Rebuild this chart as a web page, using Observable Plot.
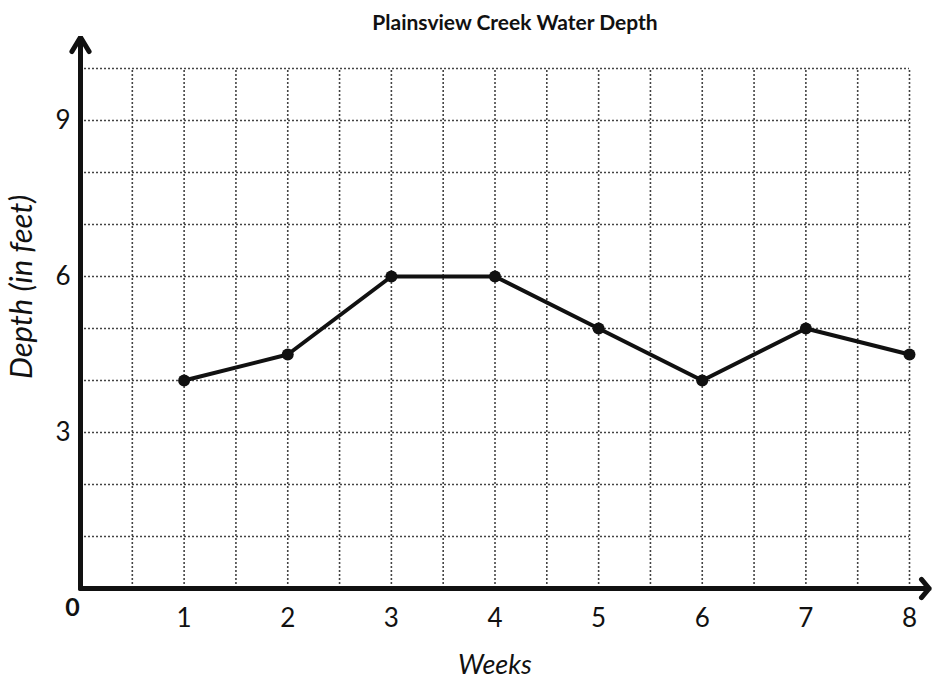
<!DOCTYPE html>
<html>
<head>
<meta charset="utf-8">
<script src="https://cdn.jsdelivr.net/npm/d3@7"></script>
<script src="https://cdn.jsdelivr.net/npm/@observablehq/plot@0.6"></script>
<style>
  body { margin: 0; background: #fff; font-family: Lato, "Open Sans", sans-serif; }
  #title { height: 36px; line-height: 44px; text-align: center; font-weight: bold; font-size: 21px; padding-left: 97px; color: #111; }
  svg { display: block; }
</style>
</head>
<body>
<div id="title">Plainsview Creek Water Depth</div>
<div id="chart"></div>
<script>
const weeks = [1, 2, 3, 4, 5, 6, 7, 8];
const depth = [4, 4.5, 6, 6, 5, 4, 5, 4.5];
const yTicks = [3, 6, 9];
const xTicks = [1, 2, 3, 4, 5, 6, 7, 8];
const xGrid = d3.range(1, 17).map(i => i / 2);
const yGrid = d3.range(1, 11);

const data = weeks.map((w, i) => ({week: w, depth: depth[i]}));

const chart = Plot.plot({
  width: 933,
  height: 644,
  marginLeft: 80,
  marginRight: 24,
  marginTop: 32,
  marginBottom: 92,
  x: {domain: [0, 8], axis: null},
  y: {domain: [0, 10], axis: null},
  style: {fontFamily: "Lato, 'Open Sans', sans-serif", background: "#fff"},
  marks: [
    Plot.ruleX(xGrid, {x: d => d, y1: 0, y2: 10, stroke: "#444", strokeWidth: 1.6, strokeDasharray: "2,2"}),
    Plot.ruleY(yGrid, {y: d => d, x1: 0, x2: 8, stroke: "#444", strokeWidth: 1.6, strokeDasharray: "2,2"}),
    Plot.arrow([{x1: 0, y1: 0, x2: 0, y2: 10.6}], {x1: "x1", y1: "y1", x2: "x2", y2: "y2", stroke: "#111", strokeWidth: 5, headLength: 5, headAngle: 62, clip: false}),
    Plot.arrow([{x1: 0, y1: 0, x2: 8.19, y2: 0}], {x1: "x1", y1: "y1", x2: "x2", y2: "y2", stroke: "#111", strokeWidth: 5, headLength: 3.6, headAngle: 100, clip: false}),
    Plot.line(data, {x: "week", y: "depth", stroke: "#111", strokeWidth: 4}),
    Plot.dot(data, {x: "week", y: "depth", r: 6, fill: "#111"}),
    Plot.text(xTicks, {x: d => d, y: 0, dy: 30, text: d => String(d), fontSize: 26, fill: "#111"}),
    Plot.text(yTicks, {x: 0, y: d => d, dx: -10, text: d => String(d), fontSize: 26, textAnchor: "end", fill: "#111"}),
    Plot.text(["0"], {x: 0, y: 0, dx: -8, dy: 19, text: d => d, fontSize: 25, fontWeight: "bold", fill: "#111"}),
    Plot.text(["Weeks"], {x: 4, y: 0, dy: 77, text: d => d, fontSize: 27, fontStyle: "italic", fill: "#111"}),
    Plot.text(["Depth (in feet)"], {x: 0, y: 5.8, dx: -58, rotate: -90, text: d => d, fontSize: 31, fontStyle: "italic", fill: "#111"})
  ]
});
document.getElementById("chart").appendChild(chart);
</script>
</body>
</html>
